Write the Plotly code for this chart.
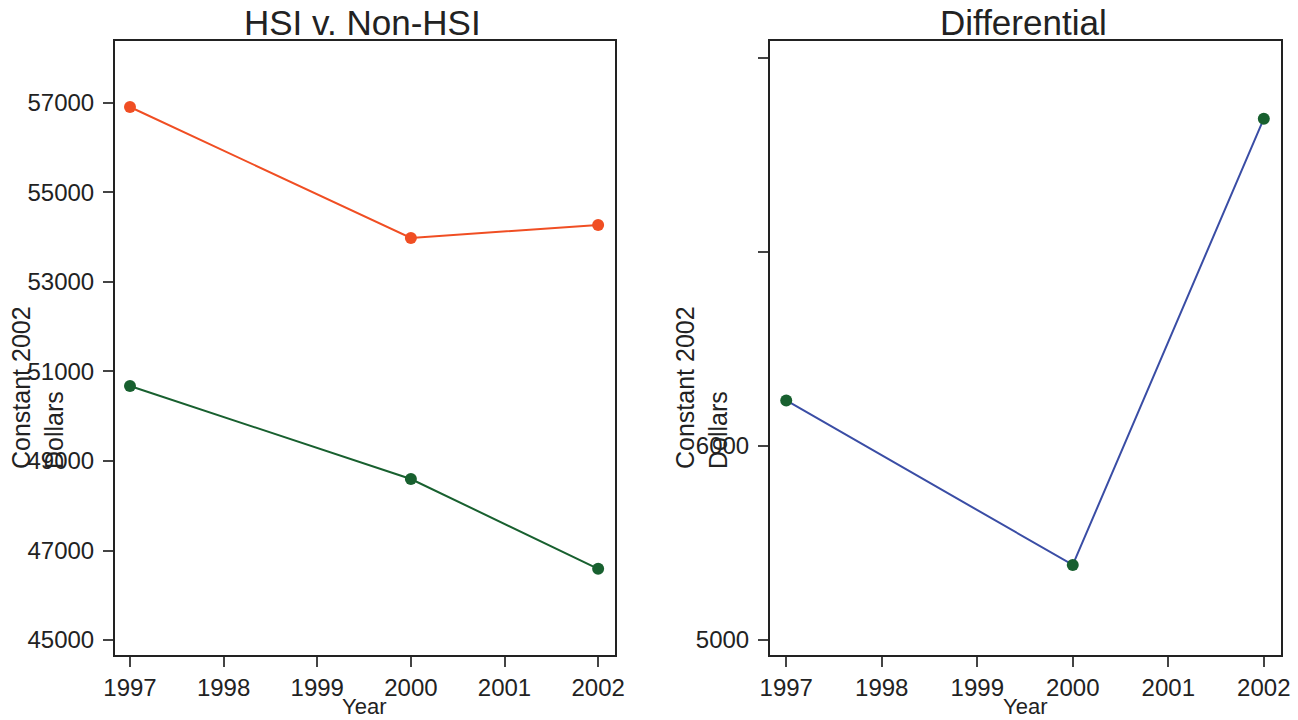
import plotly.graph_objects as go

years = [1997, 2000, 2002]
non_hsi = [56910, 53985, 54275]
hsi = [50676, 48598, 46590]
differential = [6234, 5387, 7685]

left_ticks = [45000, 47000, 49000, 51000, 53000, 55000, 57000]
right_ticks = [5000, 6000, 7000, 8000]
right_ticktext = ["5000", "6000", "", ""]
x_ticks = [1997, 1998, 1999, 2000, 2001, 2002]

RED = "#F04E23"
GREEN = "#18602F"
BLUE = "#3A4DA5"
FONT = "Liberation Sans"
W, H = 1298, 720

fig = go.Figure()
fig.add_trace(go.Scatter(x=years, y=non_hsi, mode="lines+markers",
                         line=dict(color=RED, width=2),
                         marker=dict(color=RED, size=12), xaxis="x", yaxis="y",
                         showlegend=False))
fig.add_trace(go.Scatter(x=years, y=hsi, mode="lines+markers",
                         line=dict(color=GREEN, width=2),
                         marker=dict(color=GREEN, size=12), xaxis="x", yaxis="y",
                         showlegend=False))
fig.add_trace(go.Scatter(x=years, y=differential, mode="lines+markers",
                         line=dict(color=BLUE, width=2),
                         marker=dict(color=GREEN, size=12), xaxis="x2", yaxis="y2",
                         showlegend=False))

axcommon = dict(showgrid=False, zeroline=False, showline=True, linecolor="#222",
                linewidth=2, mirror=True, ticks="outside", ticklen=10,
                tickcolor="#444", tickwidth=1.5, tickformat="d", automargin=False,
                tickfont=dict(family=FONT, size=24, color="#222"))

fig.update_layout(
    width=W, height=H,
    paper_bgcolor="white", plot_bgcolor="white",
    margin=dict(l=0, r=0, t=0, b=0, autoexpand=False),
    font=dict(family=FONT, color="#222"),
    xaxis=dict(domain=[115/W, 615/W], range=[1996.84, 2002.18],
               tickvals=x_ticks, anchor="y", **axcommon),
    yaxis=dict(domain=[1-655/H, 1-41/H], range=[44665, 58385],
               tickvals=left_ticks, anchor="x", ticklabelstandoff=4, **axcommon),
    xaxis2=dict(domain=[770/W, 1281/W], range=[1996.83, 2002.18],
                tickvals=x_ticks, anchor="y2", **axcommon),
    yaxis2=dict(domain=[1-655/H, 1-41/H], range=[4923, 8085],
                tickvals=right_ticks, ticktext=right_ticktext, anchor="x2",
                ticklabelstandoff=4, **axcommon),
)

ann = []
ann.append(dict(text="HSI v. Non-HSI", x=362/W, y=1-22/H, xref="paper", yref="paper",
                xanchor="center", yanchor="middle",
                showarrow=False, font=dict(family=FONT, size=35, color="#222")))
ann.append(dict(text="Differential", x=1023/W, y=1-22/H, xref="paper", yref="paper",
                xanchor="center", yanchor="middle",
                showarrow=False, font=dict(family=FONT, size=35, color="#222")))
for cx in [364/W, 1025/W]:
    ann.append(dict(text="Year", x=cx, y=1-706/H, xref="paper", yref="paper",
                    xanchor="center", yanchor="middle",
                    showarrow=False, font=dict(family=FONT, size=22, color="#222")))
for x0 in [37/W, 701/W]:
    ann.append(dict(text="Constant 2002<br>Dollars", x=x0, y=1-388/H,
                    xref="paper", yref="paper", textangle=-90, showarrow=False,
                    xanchor="center", yanchor="middle",
                    align="left", font=dict(family=FONT, size=25, color="#222")))
fig.update_layout(annotations=ann)

fig.write_html("out.html", config={"displayModeBar": False},
               post_script="document.body.style.margin='0';")
